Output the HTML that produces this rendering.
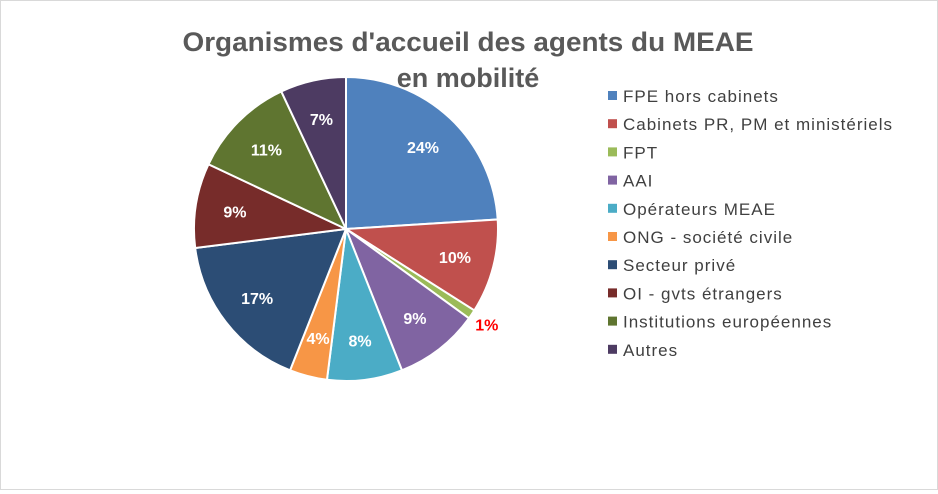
<!DOCTYPE html>
<html><head><meta charset="utf-8"><style>
body{margin:0;background:#fff}
#c{position:relative;width:936px;height:488px;border:1px solid #d9d9d9;background:#fff;font-family:"Liberation Sans",sans-serif}
</style></head><body>
<div id="c">
<svg id="s" width="936" height="488">
<text x="467" y="50" text-anchor="middle" font-size="27" font-weight="bold" fill="#595959" textLength="571" lengthAdjust="spacingAndGlyphs">Organismes d'accueil des agents du MEAE</text>
<text x="467" y="86" text-anchor="middle" font-size="27" font-weight="bold" fill="#595959">en mobilité</text>
</svg></div>
<script>
const categories=["FPE hors cabinets","Cabinets PR, PM et ministériels","FPT","AAI","Opérateurs MEAE","ONG - société civile","Secteur privé","OI - gvts étrangers","Institutions européennes","Autres"];
const values=[24,10,1,9,8,4,17,9,11,7];
const colors=["#4f81bd","#c0504d","#9bbb59","#8064a2","#4bacc6","#f79646","#2c4d75","#772c2a","#5f7530","#4d3b62"];
const svg=document.getElementById('s');const NS="http://www.w3.org/2000/svg";
const cx=345,cy=228,R=152;
const total=values.reduce((a,b)=>a+b,0);
let a0=0;
values.forEach((v,i)=>{
 const a1=a0+v/total*2*Math.PI;
 const p=(a)=>[cx+R*Math.sin(a),cy-R*Math.cos(a)];
 const [x0,y0]=p(a0),[x1,y1]=p(a1);
 const path=document.createElementNS(NS,'path');
 path.setAttribute('d',`M${cx},${cy}L${x0},${y0}A${R},${R} 0 ${a1-a0>Math.PI?1:0} 1 ${x1},${y1}Z`);
 path.setAttribute('fill',colors[i]);path.setAttribute('stroke','#fff');path.setAttribute('stroke-width','2');
 
 
 svg.appendChild(path);
 const am=(a0+a1)/2;const small=v/total<0.02;const rr=small?R*1.12:R*0.74;
 const t=document.createElementNS(NS,'text');
 t.setAttribute('x',cx+rr*Math.sin(am));t.setAttribute('y',cy-rr*Math.cos(am)+6);
 t.setAttribute('text-anchor','middle');t.setAttribute('font-size','16');t.setAttribute('font-weight','bold');
 t.setAttribute('fill',small?'#ff0000':'#fff');
 t.textContent=v+'%';
 
 
 svg.appendChild(t);
 const ly=95+i*28.2;
 const r=document.createElementNS(NS,'rect');
 r.setAttribute('x',607);r.setAttribute('y',ly-5);r.setAttribute('width',9);r.setAttribute('height',9);r.setAttribute('fill',colors[i]);
 
 
 svg.appendChild(r);
 const lt=document.createElementNS(NS,'text');
 lt.setAttribute('x',622);lt.setAttribute('y',ly+6);lt.setAttribute('font-size','17');lt.setAttribute('letter-spacing','1');lt.setAttribute('fill','#404040');
 lt.textContent=categories[i];
 
 
 svg.appendChild(lt);
 a0=a1;
});
</script></body></html>
